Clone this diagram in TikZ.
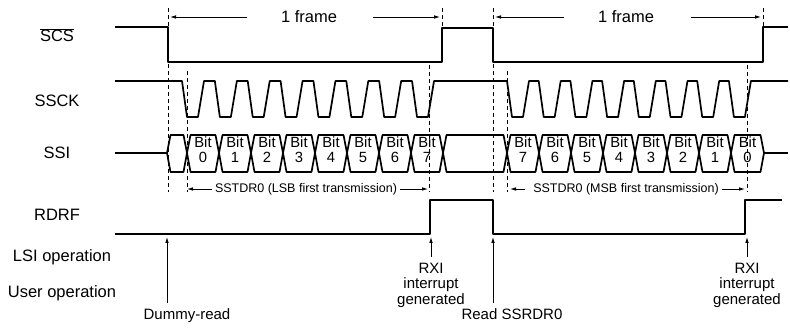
\documentclass[tikz,border=0pt]{standalone}
\usepackage{fontspec}
\setmainfont{Liberation Sans}
\usetikzlibrary{arrows.meta}
\tikzset{
  sig/.style={line width=1.7pt, line join=round},
  guide/.style={line width=0.8pt, dash pattern=on 4pt off 3pt},
  arrow/.style={-{Latex[length=6pt,width=3.6pt]}, line width=0.8pt},
  lane/.style={font=\fontsize{16.5}{18}\selectfont, inner sep=0pt},
  bitlbl/.style={font=\fontsize{14.8}{15}\selectfont, align=center, inner sep=0pt},
  note/.style={font=\fontsize{12.5}{14}\selectfont, inner sep=0pt},
  event/.style={font=\fontsize{15}{15.5}\selectfont, align=center, inner sep=0pt, outer ysep=6pt, anchor=north}
}

\begin{document}
\begin{tikzpicture}[x=1pt,y=-1pt]
  \useasboundingbox (0,0) rectangle (790,328);

  % Lane labels
  \node[lane, anchor=base] (scs) at (57,42) {$\overline{\mbox{SCS}}$};
  \node[lane, anchor=base] (ssck) at (57,107) {SSCK};
  \node[lane, anchor=base] (ssi) at (57,159) {SSI};
  \node[lane, anchor=base] (rdrf) at (57,221) {RDRF};
  \node[lane, anchor=base] (lsiop) at (62,262) {LSI operation};
  \node[lane, anchor=base] (userop) at (62,298) {User operation};

  % Time marks
  \coordinate (ta) at (168,16);
  \coordinate (td) at (442,16);
  \coordinate (te) at (493,16);
  \coordinate (th) at (763,16);
  \coordinate (tb) at (187,189);
  \coordinate (tc) at (429,189);
  \coordinate (tf) at (507,189);
  \coordinate (tg) at (747,189);

  % Dashed guides
  \foreach \x/\ya/\yb in {168/8/192, 187/71/192, 429/65/192, 442/8/26,
                          493/8/192, 507/71/192, 747/65/192, 763/8/26}
    \draw[guide] (\x,\ya) -- (\x,\yb);

  % Frame arrows
  \node[lane] (frameA) at (309,17) {1 frame};
  \node[lane] (frameB) at (626,17) {1 frame};
  \draw[arrow] ([xshift=-34pt]frameA.west) -- ([xshift=2pt]frameA.west -| ta);
  \draw[arrow] ([xshift=36pt]frameA.east) -- ([xshift=-2pt]frameA.east -| td);
  \draw[arrow] ([xshift=-34pt]frameB.west) -- ([xshift=2pt]frameB.west -| te);
  \draw[arrow] ([xshift=37pt]frameB.east) -- ([xshift=-2pt]frameB.east -| th);

  % SCS
  \draw[sig] (115,27) -- (168,27) -- (168,62) -- (442,62) -- (442,28)
    -- (493,28) -- (493,62) -- (763,62) -- (763,27) -- (788,27);

  % SSCK
  \draw[sig] (115,81) -- (182,81)
    \foreach \k [evaluate=\k as \f using 182+32.86*\k] in {0,...,7} {
      -- (\f,81) -- (\f+5,117) -- (\f+16,117) -- (\f+22,81) }
    -- (507,81)
    \foreach \k [evaluate=\k as \f using 507+31.7*\k] in {0,...,7} {
      -- (\f,81) -- (\f+5,117) -- (\f+16,117) -- (\f+22,81) }
    -- (788,81);

  % SSI
  \draw[sig] (115,153) -- (167,153);
  \draw[sig] (764,153) -- (788,153);
  \foreach \a/\b in {167/187, 187/219, 219/251, 251/283, 283/315, 315/347,
                     347/379, 379/411, 411/443, 443/507, 507/539, 539/571,
                     571/603, 603/635, 635/667, 667/699, 699/731, 731/764}
    \draw[sig] (\a,153) -- (\a+3.5,135) -- (\b-3.5,135) -- (\b,153)
      -- (\b-3.5,172) -- (\a+3.5,172) -- cycle;
  \foreach \k in {0,...,7} {
    \node[bitlbl] (lsb\k) at (203+32*\k,149.5) {Bit\\\k};
  }
  \foreach \k [evaluate=\k as \n using int(7-\k)] in {0,...,6} {
    \node[bitlbl] (msb\n) at (523+32*\k,149.5) {Bit\\\n};
  }
  \node[bitlbl] (msb0) at (747.5,149.5) {Bit\\0};

  % Register notes
  \node[note] (lsbtxt) at (306,189) {SSTDR0 (LSB first transmission)};
  \node[note] (msbtxt) at (626,189) {SSTDR0 (MSB first transmission)};
  \draw[arrow] ([xshift=-3pt]lsbtxt.west) -- (lsbtxt.west -| tb);
  \draw[arrow] ([xshift=3pt]lsbtxt.east) -- ([xshift=-1pt]lsbtxt.east -| tc);
  \draw[arrow] ([xshift=-8pt]msbtxt.west) -- ([xshift=3pt]msbtxt.west -| tf);
  \draw[arrow] ([xshift=3pt]msbtxt.east) -- ([xshift=-2pt]msbtxt.east -| tg);

  % RDRF
  \draw[sig] (115,234) -- (430,234) -- (430,200) -- (493,200) -- (493,234)
    -- (745,234) -- (745,200) -- (782,200);

  % Events
  \coordinate (dumtip) at (167,237);
  \coordinate (rxitipA) at (431,237);
  \coordinate (readtip) at (493,237);
  \coordinate (rxitipB) at (747,237);
  \node[event] (dummy) at (187,303) {Dummy-read};
  \node[event] (readrd) at (512,303) {Read SSRDR0};
  \node[event] (rxiA) at (431,257) {RXI\\interrupt\\generated};
  \node[event] (rxiB) at (747,257) {RXI\\interrupt\\generated};
  \draw[arrow] (dummy.north -| dumtip) -- (dumtip);
  \draw[arrow] (readrd.north -| readtip) -- (readtip);
  \draw[arrow] (rxiA.north) -- (rxitipA);
  \draw[arrow] (rxiB.north) -- (rxitipB);
\end{tikzpicture}
\end{document}
